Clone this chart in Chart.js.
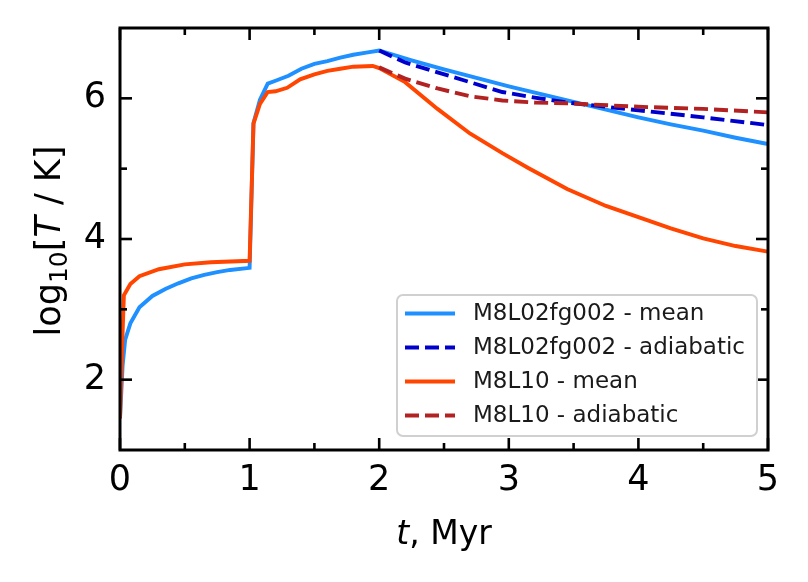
<!DOCTYPE html>
<html>
<head>
<meta charset="utf-8">
<script src="https://cdn.jsdelivr.net/npm/chart.js@4.4.1/dist/chart.umd.min.js"></script>
<style>
  html, body { margin: 0; padding: 0; background: #fff; }
  #wrap { width: 808px; height: 582px; position: relative; }
</style>
</head>
<body>
<div id="wrap"><canvas id="graficoTemperatura"></canvas></div>
<script>
// M8L02fg002 - mean
const tMeanA = [0, 0.02, 0.04, 0.08, 0.15, 0.25, 0.35, 0.45, 0.55, 0.65, 0.75, 0.85, 1.0, 1.03, 1.08, 1.14, 1.2, 1.3, 1.4, 1.5, 1.6, 1.7, 1.8, 1.9, 2.0, 2.25, 2.5, 2.75, 3.0, 3.25, 3.5, 3.75, 4.0, 4.25, 4.5, 4.75, 5.0];
const logTMeanA = [1.45, 2.2, 2.57, 2.8, 3.03, 3.19, 3.29, 3.37, 3.44, 3.49, 3.53, 3.56, 3.59, 5.65, 5.98, 6.21, 6.25, 6.32, 6.42, 6.49, 6.53, 6.58, 6.62, 6.65, 6.68, 6.54, 6.41, 6.29, 6.17, 6.06, 5.95, 5.84, 5.73, 5.63, 5.54, 5.44, 5.35];

// M8L02fg002 - adiabatic
const tAdiaA = [2.0, 2.2, 2.45, 2.7, 2.95, 3.2, 3.45, 3.75, 4.0, 4.5, 5.0];
const logTAdiaA = [6.68, 6.51, 6.37, 6.23, 6.09, 6.01, 5.94, 5.88, 5.83, 5.73, 5.62];

// M8L10 - mean
const tMeanB = [0, 0.015, 0.03, 0.08, 0.15, 0.3, 0.5, 0.7, 1.0, 1.03, 1.08, 1.14, 1.2, 1.29, 1.39, 1.5, 1.6, 1.7, 1.8, 1.95, 2.0, 2.2, 2.45, 2.7, 2.95, 3.15, 3.45, 3.75, 4.0, 4.25, 4.5, 4.75, 5.0];
const logTMeanB = [1.45, 2.4, 3.2, 3.36, 3.47, 3.57, 3.64, 3.67, 3.69, 5.64, 5.92, 6.09, 6.10, 6.15, 6.27, 6.34, 6.39, 6.42, 6.45, 6.46, 6.43, 6.23, 5.85, 5.50, 5.22, 5.01, 4.71, 4.47, 4.31, 4.15, 4.01, 3.90, 3.82];

// M8L10 - adiabatic
const tAdiaB = [2.0, 2.2, 2.45, 2.7, 2.95, 3.2, 3.45, 4.0, 4.5, 5.0];
const logTAdiaB = [6.44, 6.28, 6.14, 6.03, 5.97, 5.94, 5.93, 5.88, 5.85, 5.80];

const nomesSeries = ["M8L02fg002 - mean", "M8L02fg002 - adiabatic", "M8L10 - mean", "M8L10 - adiabatic"];

const xTicks = [0, 1, 2, 3, 4, 5];
const xTicksMenores = [0.5, 1.5, 2.5, 3.5, 4.5];
const yTicks = [2, 4, 6];
const yTicksMenores = [3, 5];

const FONTE = "'DejaVu Sans'";

const pares = (ts, vs) => ts.map((t, i) => ({ x: t, y: vs[i] }));

// escreve texto com partes em estilos diferentes (itálico, subscrito)
function textoMisto(ctx, partes, x, y, angulo) {
  ctx.save();
  ctx.translate(x, y);
  ctx.rotate(angulo);
  ctx.textBaseline = "alphabetic";
  ctx.textAlign = "left";
  ctx.fillStyle = "#000";
  let total = 0;
  partes.forEach((p) => {
    ctx.font = p[1];
    total += ctx.measureText(p[0]).width;
  });
  let cx = -total / 2;
  partes.forEach((p) => {
    ctx.font = p[1];
    ctx.fillText(p[0], cx, p[2] || 0);
    cx += ctx.measureText(p[0]).width;
  });
  ctx.restore();
}

// moldura com ticks para dentro nos quatro lados
const molduraPlugin = {
  id: "moldura",
  afterDatasetsDraw(chart) {
    const { ctx, chartArea: a, scales } = chart;
    ctx.save();
    ctx.strokeStyle = "#000";
    ctx.lineWidth = 2.6;
    const traco = (x1, y1, x2, y2) => {
      ctx.beginPath();
      ctx.moveTo(x1, y1);
      ctx.lineTo(x2, y2);
      ctx.stroke();
    };
    xTicks.forEach((v) => {
      const x = scales.x.getPixelForValue(v);
      traco(x, a.bottom, x, a.bottom - 12);
      traco(x, a.top, x, a.top + 12);
    });
    xTicksMenores.forEach((v) => {
      const x = scales.x.getPixelForValue(v);
      traco(x, a.bottom, x, a.bottom - 7);
      traco(x, a.top, x, a.top + 7);
    });
    yTicks.forEach((v) => {
      const y = scales.y.getPixelForValue(v);
      traco(a.left, y, a.left + 12, y);
      traco(a.right, y, a.right - 12, y);
    });
    yTicksMenores.forEach((v) => {
      const y = scales.y.getPixelForValue(v);
      traco(a.left, y, a.left + 7, y);
      traco(a.right, y, a.right - 7, y);
    });
    ctx.lineWidth = 3;
    ctx.strokeRect(a.left, a.top, a.right - a.left, a.bottom - a.top);
    ctx.restore();
  },
  afterDraw(chart) {
    const { ctx, chartArea: a } = chart;

    // títulos dos eixos
    textoMisto(ctx, [["t", "italic 33px " + FONTE], [", Myr", "33px " + FONTE]],
      (a.left + a.right) / 2, 544, 0);
    textoMisto(ctx, [
      ["log", "35px " + FONTE],
      ["10", "25px " + FONTE, 7],
      ["[", "35px " + FONTE],
      ["T", "italic 35px " + FONTE],
      [" / K]", "35px " + FONTE],
    ], 60, (a.top + a.bottom) / 2 + 2, -Math.PI / 2);

    // legenda
    const caixa = { x: a.right - 371, y: a.bottom - 155, w: 360, h: 141 };
    ctx.save();
    ctx.beginPath();
    ctx.roundRect(caixa.x, caixa.y, caixa.w, caixa.h, 6);
    ctx.fillStyle = "rgba(255,255,255,0.85)";
    ctx.fill();
    ctx.lineWidth = 2;
    ctx.strokeStyle = "#d0d0d0";
    ctx.stroke();
    ctx.font = "23px " + FONTE;
    ctx.textBaseline = "middle";
    ctx.fillStyle = "#1a1a1a";
    chart.data.datasets.forEach((ds, i) => {
      const y = caixa.y + 18.5 + i * 34;
      ctx.strokeStyle = ds.borderColor;
      ctx.lineWidth = ds.borderWidth;
      ctx.setLineDash(ds.borderDash || []);
      ctx.beginPath();
      ctx.moveTo(caixa.x + 8, y);
      ctx.lineTo(caixa.x + 58, y);
      ctx.stroke();
      ctx.fillText(ds.label, caixa.x + 76, y + 1);
    });
    ctx.restore();
  },
};

const graficoTemperatura = new Chart(document.getElementById("graficoTemperatura"), {
  type: "line",
  data: {
    datasets: [
      {
        label: nomesSeries[0],
        data: pares(tMeanA, logTMeanA),
        borderColor: "#1E90FF",
        borderWidth: 3.9,
        order: 3,
      },
      {
        label: nomesSeries[1],
        data: pares(tAdiaA, logTAdiaA),
        borderColor: "#0000CD",
        borderWidth: 3.9,
        borderDash: [14, 6],
        order: 2,
      },
      {
        label: nomesSeries[2],
        data: pares(tMeanB, logTMeanB),
        borderColor: "#FF4500",
        borderWidth: 3.9,
        order: 1,
      },
      {
        label: nomesSeries[3],
        data: pares(tAdiaB, logTAdiaB),
        borderColor: "#B22222",
        borderWidth: 3.9,
        borderDash: [14, 6],
        order: 0,
      },
    ],
  },
  options: {
    responsive: true,
    maintainAspectRatio: false,
    animation: false,
    elements: {
      point: { radius: 0, hoverRadius: 0 },
      line: { tension: 0, fill: false },
    },
    layout: { padding: { top: 28, right: 40, left: 0, bottom: 0 } },
    plugins: {
      legend: { display: false },
      tooltip: { enabled: false },
    },
    scales: {
      x: {
        type: "linear",
        min: 0,
        max: 5,
        afterBuildTicks: (s) => { s.ticks = xTicks.map((v) => ({ value: v })); },
        afterFit: (s) => {
          s.height = 132;
          s.paddingLeft = 0;
          s.paddingRight = 0;
        },
        grid: { display: false, drawTicks: false },
        border: { display: false },
        ticks: {
          color: "#000",
          padding: 10,
          maxRotation: 0,
          autoSkip: false,
          font: { family: "DejaVu Sans", size: 35 },
        },
      },
      y: {
        type: "linear",
        min: 1,
        max: 7,
        afterBuildTicks: (s) => { s.ticks = yTicks.map((v) => ({ value: v })); },
        afterFit: (s) => {
          s.width = 120;
          s.paddingTop = 0;
          s.paddingBottom = 0;
        },
        grid: { display: false, drawTicks: false },
        border: { display: false },
        ticks: {
          color: "#000",
          padding: 14,
          font: { family: "DejaVu Sans", size: 35 },
        },
      },
    },
  },
  plugins: [molduraPlugin],
});
</script>
</body>
</html>
